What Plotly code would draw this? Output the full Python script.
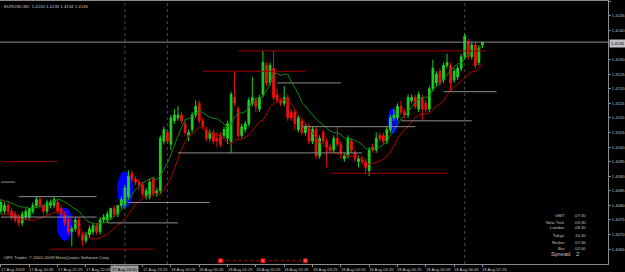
import plotly.graph_objects as go
import pandas as pd

# ---------------- data (EURUSD, M5) ----------------
open_ = [1.4078,1.4078,1.4080,1.4078,1.4077,1.4076,1.4074,1.4076,1.4076,1.4078,
 1.4080,1.4082,1.4080,1.4078,1.4080,1.4080,1.4081,1.4079,1.4077,1.4075,
 1.4071,1.4072,1.4075,1.4070,1.4068,1.4070,1.4071,1.4073,1.4071,1.4075,
 1.4075,1.4076,1.4079,1.4077,1.4080,1.4080,1.4083,1.4091,1.4089,1.4088,
 1.4087,1.4083,1.4083,1.4089,1.4084,1.4085,1.4102,1.4105,1.4101,1.4109,
 1.4110,1.4111,1.4108,1.4104,1.4106,1.4111,1.4115,1.4109,1.4106,1.4103,
 1.4105,1.4103,1.4104,1.4104,1.4103,1.4102,1.4117,1.4113,1.4104,1.4106,
 1.4108,1.4115,1.4116,1.4113,1.4118,1.4128,1.4122,1.4127,1.4118,1.4116,
 1.4115,1.4117,1.4112,1.4112,1.4106,1.4109,1.4105,1.4107,1.4102,1.4106,
 1.4097,1.4105,1.4102,1.4100,1.4099,1.4103,1.4101,1.4096,1.4097,1.4102,
 1.4098,1.4095,1.4096,1.4095,1.4092,1.4100,1.4099,1.4104,1.4104,1.4102,
 1.4106,1.4110,1.4110,1.4114,1.4112,1.4111,1.4116,1.4117,1.4113,1.4117,
 1.4115,1.4113,1.4120,1.4122,1.4126,1.4123,1.4128,1.4128,1.4123,1.4124,
 1.4127,1.4131,1.4136,1.4131,1.4135,1.4129,1.4135]
high = [1.4082,1.4081,1.4081,1.4079,1.4078,1.4077,1.4078,1.4079,1.4079,1.4081,
 1.4083,1.4083,1.4080,1.4082,1.4082,1.4083,1.4082,1.4080,1.4078,1.4076,
 1.4073,1.4076,1.4076,1.4071,1.4071,1.4073,1.4074,1.4074,1.4076,1.4077,
 1.4078,1.4079,1.4080,1.4080,1.4083,1.4087,1.4092,1.4092,1.4090,1.4089,
 1.4088,1.4086,1.4089,1.4090,1.4086,1.4104,1.4107,1.4106,1.4111,1.4113,
 1.4114,1.4112,1.4109,1.4106,1.4112,1.4116,1.4116,1.4110,1.4107,1.4106,
 1.4106,1.4105,1.4105,1.4107,1.4109,1.4119,1.4126,1.4114,1.4108,1.4109,
 1.4117,1.4124,1.4117,1.4118,1.4133,1.4129,1.4129,1.4133,1.4120,1.4117,
 1.4121,1.4118,1.4113,1.4113,1.4111,1.4110,1.4108,1.4108,1.4107,1.4107,
 1.4104,1.4106,1.4103,1.4101,1.4104,1.4107,1.4102,1.4098,1.4104,1.4103,
 1.4099,1.4097,1.4097,1.4096,1.4100,1.4101,1.4105,1.4105,1.4105,1.4107,
 1.4111,1.4113,1.4115,1.4116,1.4113,1.4118,1.4118,1.4118,1.4119,1.4118,
 1.4116,1.4121,1.4130,1.4126,1.4127,1.4129,1.4132,1.4129,1.4127,1.4128,
 1.4132,1.4139,1.4137,1.4136,1.4136,1.4135,1.4136]
low = [1.4077,1.4077,1.4077,1.4075,1.4074,1.4073,1.4073,1.4075,1.4075,1.4077,
 1.4079,1.4079,1.4077,1.4077,1.4079,1.4079,1.4077,1.4076,1.4073,1.4070,
 1.4066,1.4071,1.4069,1.4066,1.4067,1.4069,1.4070,1.4070,1.4070,1.4074,
 1.4074,1.4075,1.4076,1.4076,1.4079,1.4079,1.4082,1.4088,1.4087,1.4085,
 1.4083,1.4082,1.4082,1.4083,1.4083,1.4084,1.4101,1.4101,1.4099,1.4108,
 1.4109,1.4108,1.4104,1.4102,1.4105,1.4110,1.4108,1.4106,1.4102,1.4102,
 1.4101,1.4100,1.4100,1.4103,1.4101,1.4098,1.4114,1.4103,1.4103,1.4105,
 1.4107,1.4114,1.4112,1.4112,1.4117,1.4121,1.4121,1.4116,1.4115,1.4114,
 1.4114,1.4109,1.4109,1.4106,1.4105,1.4104,1.4104,1.4101,1.4101,1.4096,
 1.4096,1.4101,1.4093,1.4098,1.4098,1.4100,1.4096,1.4095,1.4096,1.4098,
 1.4095,1.4093,1.4094,1.4091,1.4090,1.4098,1.4098,1.4102,1.4101,1.4101,
 1.4105,1.4109,1.4109,1.4111,1.4110,1.4110,1.4115,1.4113,1.4112,1.4109,
 1.4112,1.4112,1.4119,1.4121,1.4121,1.4122,1.4127,1.4119,1.4122,1.4123,
 1.4126,1.4130,1.4130,1.4130,1.4127,1.4128,1.4134]
close = [1.4081,1.4080,1.4078,1.4076,1.4075,1.4074,1.4077,1.4078,1.4079,1.4080,
 1.4082,1.4080,1.4078,1.4081,1.4081,1.4082,1.4078,1.4077,1.4074,1.4071,
 1.4072,1.4075,1.4070,1.4068,1.4070,1.4072,1.4073,1.4071,1.4075,1.4076,
 1.4077,1.4079,1.4077,1.4080,1.4082,1.4086,1.4090,1.4089,1.4088,1.4087,
 1.4084,1.4085,1.4088,1.4084,1.4085,1.4103,1.4106,1.4102,1.4110,1.4111,
 1.4111,1.4109,1.4105,1.4105,1.4111,1.4114,1.4109,1.4107,1.4103,1.4105,
 1.4102,1.4102,1.4101,1.4106,1.4108,1.4118,1.4115,1.4104,1.4107,1.4108,
 1.4116,1.4117,1.4114,1.4117,1.4129,1.4122,1.4128,1.4117,1.4116,1.4115,
 1.4117,1.4110,1.4110,1.4108,1.4110,1.4105,1.4107,1.4102,1.4106,1.4097,
 1.4103,1.4102,1.4100,1.4099,1.4103,1.4101,1.4098,1.4097,1.4103,1.4099,
 1.4096,1.4096,1.4095,1.4093,1.4099,1.4099,1.4103,1.4103,1.4102,1.4106,
 1.4110,1.4111,1.4114,1.4112,1.4111,1.4117,1.4117,1.4114,1.4118,1.4113,
 1.4113,1.4120,1.4127,1.4125,1.4122,1.4128,1.4129,1.4122,1.4126,1.4127,
 1.4131,1.4138,1.4131,1.4135,1.4128,1.4134,1.4136]
bars = list(range(len(close)))

# visible time labels (the 22:45 label is hidden under the marker-time box)
time_labels = ["17 Aug 2009", "17 Aug 20:45", "17 Aug 21:25", "17 Aug 22:05",
               "17 Aug 23:25", "18 Aug 00:05", "18 Aug 00:45",
               "18 Aug 01:25", "18 Aug 02:05", "18 Aug 02:45", "18 Aug 03:25",
               "18 Aug 04:05", "18 Aug 04:45", "18 Aug 05:25", "18 Aug 06:05",
               "18 Aug 06:45", "18 Aug 07:25"]
label_bars = [0, 8, 16, 24, 40, 48, 56, 64, 72, 80, 88, 96, 104, 112, 120, 128, 136]
tick_bars = [0, 8, 16, 24, 32, 40, 48, 56, 64, 72, 80, 88, 96, 104, 112, 120, 128, 136]

price_ticks = [1.4065, 1.4070, 1.4075, 1.4080, 1.4085, 1.4090, 1.4095, 1.4100, 1.4105,
               1.4110, 1.4115, 1.4120, 1.4125, 1.4130, 1.4140, 1.4145, 1.4150]

# horizontal level objects: (price, first bar, last bar)
gray_levels = [(1.4088, 0, 4), (1.4083, 5, 27), (1.4076, 0, 27), (1.4081, 36, 59),
               (1.4098, 50, 102), (1.4074, 30, 50), (1.4122, 78, 96), (1.4107, 85, 117),
               (1.4119, 125, 140), (1.4109, 113, 133)]
red_levels = [(1.4095, 0, 16), (1.4065, 14, 43), (1.4133, 67, 137), (1.4126, 57, 86),
              (1.4091, 93, 126)]
dotted_bars = [62, 74, 86]
dotted_price = 1.4061

# blue ellipses: (bar from, bar to, price low, price high)
ellipses = [(15.8, 20.3, 1.40679, 1.40792), (32.8, 37.3, 1.40792, 1.40915),
            (109.3, 112.1, 1.41045, 1.41134)]
session_bars = [35, 47, 131]
marker_label = "17 Aug 23:00"

ma_period = 8

clock_names = ["GMT", "New York", "London", "Tokyo", "Broker", "Bar"]
clock_values = ["07:30", "03:30", "08:30", "16:30", "07:30", "02:00"]
spread = "2"
title_text = "EURUSD,M5  1.4135 1.4136 1.4134 1.4136"
copyright_text = "UFX Trader, \u00a9 2001-2009 MetaQuotes Software Corp."

# ---------------- figure ----------------
FONT = "Liberation Sans"
TXT = "#c0c0c0"
GRAY = "#8c8c8c"
DARKRED = "#a00000"
BULL = "#1fd01f"
BEAR = "#ee1010"

fig = go.Figure()

ma_high = pd.Series(high).rolling(ma_period, min_periods=1).mean()
ma_low = pd.Series(low).rolling(ma_period, min_periods=1).mean()

fig.add_trace(go.Candlestick(
    x=bars, open=open_, high=high, low=low, close=close,
    increasing=dict(line=dict(color=BULL, width=1), fillcolor=BULL),
    decreasing=dict(line=dict(color=BEAR, width=1), fillcolor=BEAR),
    whiskerwidth=0, hoverinfo="skip"))

fig.add_trace(go.Scatter(x=bars, y=ma_high, mode="lines",
                         line=dict(color="#0c8a0c", width=1), hoverinfo="skip"))
fig.add_trace(go.Scatter(x=bars, y=ma_low, mode="lines",
                         line=dict(color="#b40000", width=1), hoverinfo="skip"))


def seg_xy(levels):
    xs, ys = [], []
    for p, a, b in levels:
        xs += [a, b, None]
        ys += [p, p, None]
    return xs, ys


gx, gy = seg_xy(gray_levels)
fig.add_trace(go.Scatter(x=gx, y=gy, mode="lines", line=dict(color=GRAY, width=1),
                         hoverinfo="skip"))
rx, ry = seg_xy(red_levels)
fig.add_trace(go.Scatter(x=rx, y=ry, mode="lines", line=dict(color=DARKRED, width=1),
                         hoverinfo="skip"))
# bid line
fig.add_trace(go.Scatter(x=[-1, 175], y=[close[-1], close[-1]], mode="lines",
                         line=dict(color=GRAY, width=1), hoverinfo="skip"))
# red dotted object at bottom
fig.add_trace(go.Scatter(x=dotted_bars, y=[dotted_price] * len(dotted_bars),
                         mode="lines+markers",
                         line=dict(color="#c00000", width=1, dash="dot"),
                         marker=dict(symbol="square", size=4, color="#ff5050",
                                     line=dict(color="#e00000", width=1)),
                         hoverinfo="skip"))

shapes = []
for x0, x1, y0, y1 in ellipses:
    shapes.append(dict(type="circle", xref="x", yref="y", x0=x0, x1=x1, y0=y0, y1=y1,
                       fillcolor="#0000ff", line=dict(width=0), layer="below"))
for b in session_bars:
    shapes.append(dict(type="line", xref="x", yref="paper", x0=b, x1=b, y0=0, y1=1,
                       line=dict(color="#4a4a4a", width=1, dash="dot"), layer="below"))
fig.update_layout(shapes=shapes)

ann = []
for b, t in zip(label_bars, time_labels):
    ann.append(dict(x=b, xref="x", y=0, yref="paper", text=t, showarrow=False,
                    xanchor="left", yanchor="top", xshift=-2, yshift=-1,
                    font=dict(family=FONT, size=4.2, color=TXT)))
ann.append(dict(x=session_bars[0], xref="x", y=0, yref="paper", text=marker_label,
                showarrow=False, xanchor="center", yanchor="top", yshift=-1,
                bgcolor="#9a9a9a", borderpad=1,
                font=dict(family=FONT, size=4.2, color="#000000")))
ann.append(dict(x=1, xref="paper", y=close[-1], yref="y", text=f"{close[-1]:.4f}",
                showarrow=False, xanchor="left", yanchor="middle", xshift=1, yshift=-1,
                bgcolor="#c0c0c0", borderpad=1,
                font=dict(family=FONT, size=4.2, color="#000000")))
ann.append(dict(x=0.004, xref="paper", y=0.995, yref="paper", text=title_text,
                showarrow=False, xanchor="left", yanchor="top",
                font=dict(family=FONT, size=4.3, color=TXT)))
ann.append(dict(x=0.003, xref="paper", y=0.006, yref="paper", text=copyright_text,
                showarrow=False, xanchor="left", yanchor="bottom",
                font=dict(family=FONT, size=4.4, color=TXT)))
row_px = [215, 222, 228, 235, 242, 248]
for py, name, val in zip(row_px, clock_names, clock_values):
    yp = (264 - py) / 263
    ann.append(dict(x=567 / 608, xref="paper", y=yp, yref="paper", text=name,
                    showarrow=False, xanchor="right", yanchor="middle",
                    font=dict(family=FONT, size=4.3, color=TXT)))
    ann.append(dict(x=573 / 608, xref="paper", y=yp, yref="paper", text=val,
                    showarrow=False, xanchor="left", yanchor="middle",
                    font=dict(family=FONT, size=4.3, color=TXT)))
ann.append(dict(x=549 / 608, xref="paper", y=(264 - 254) / 263, yref="paper",
                text="Spread", showarrow=False, xanchor="left", yanchor="middle",
                font=dict(family=FONT, size=6, color=TXT)))
ann.append(dict(x=574 / 608, xref="paper", y=(264 - 254) / 263, yref="paper",
                text=spread, showarrow=False, xanchor="left", yanchor="middle",
                font=dict(family=FONT, size=6, color=TXT)))

fig.update_layout(
    width=625, height=272,
    margin=dict(l=0, r=17, t=1, b=8),
    paper_bgcolor="#000000", plot_bgcolor="#000000",
    showlegend=False,
    annotations=ann,
    xaxis=dict(range=[-0.28, 171.47], rangeslider=dict(visible=False),
               showgrid=False, zeroline=False, showline=True, linecolor=GRAY,
               linewidth=1, mirror=True, tickvals=tick_bars, ticks="outside",
               ticklen=2, tickcolor=GRAY, showticklabels=False, fixedrange=True),
    yaxis=dict(range=[1.40599, 1.41501], side="right", showgrid=False, zeroline=False,
               showline=True, linecolor=GRAY, linewidth=1, tickvals=price_ticks,
               ticktext=[f"{v:.4f}" for v in price_ticks], ticks="outside",
               ticklen=2, tickcolor=GRAY,
               tickfont=dict(family=FONT, size=4.2, color=TXT), fixedrange=True),
)

fig.write_html("out.html")
